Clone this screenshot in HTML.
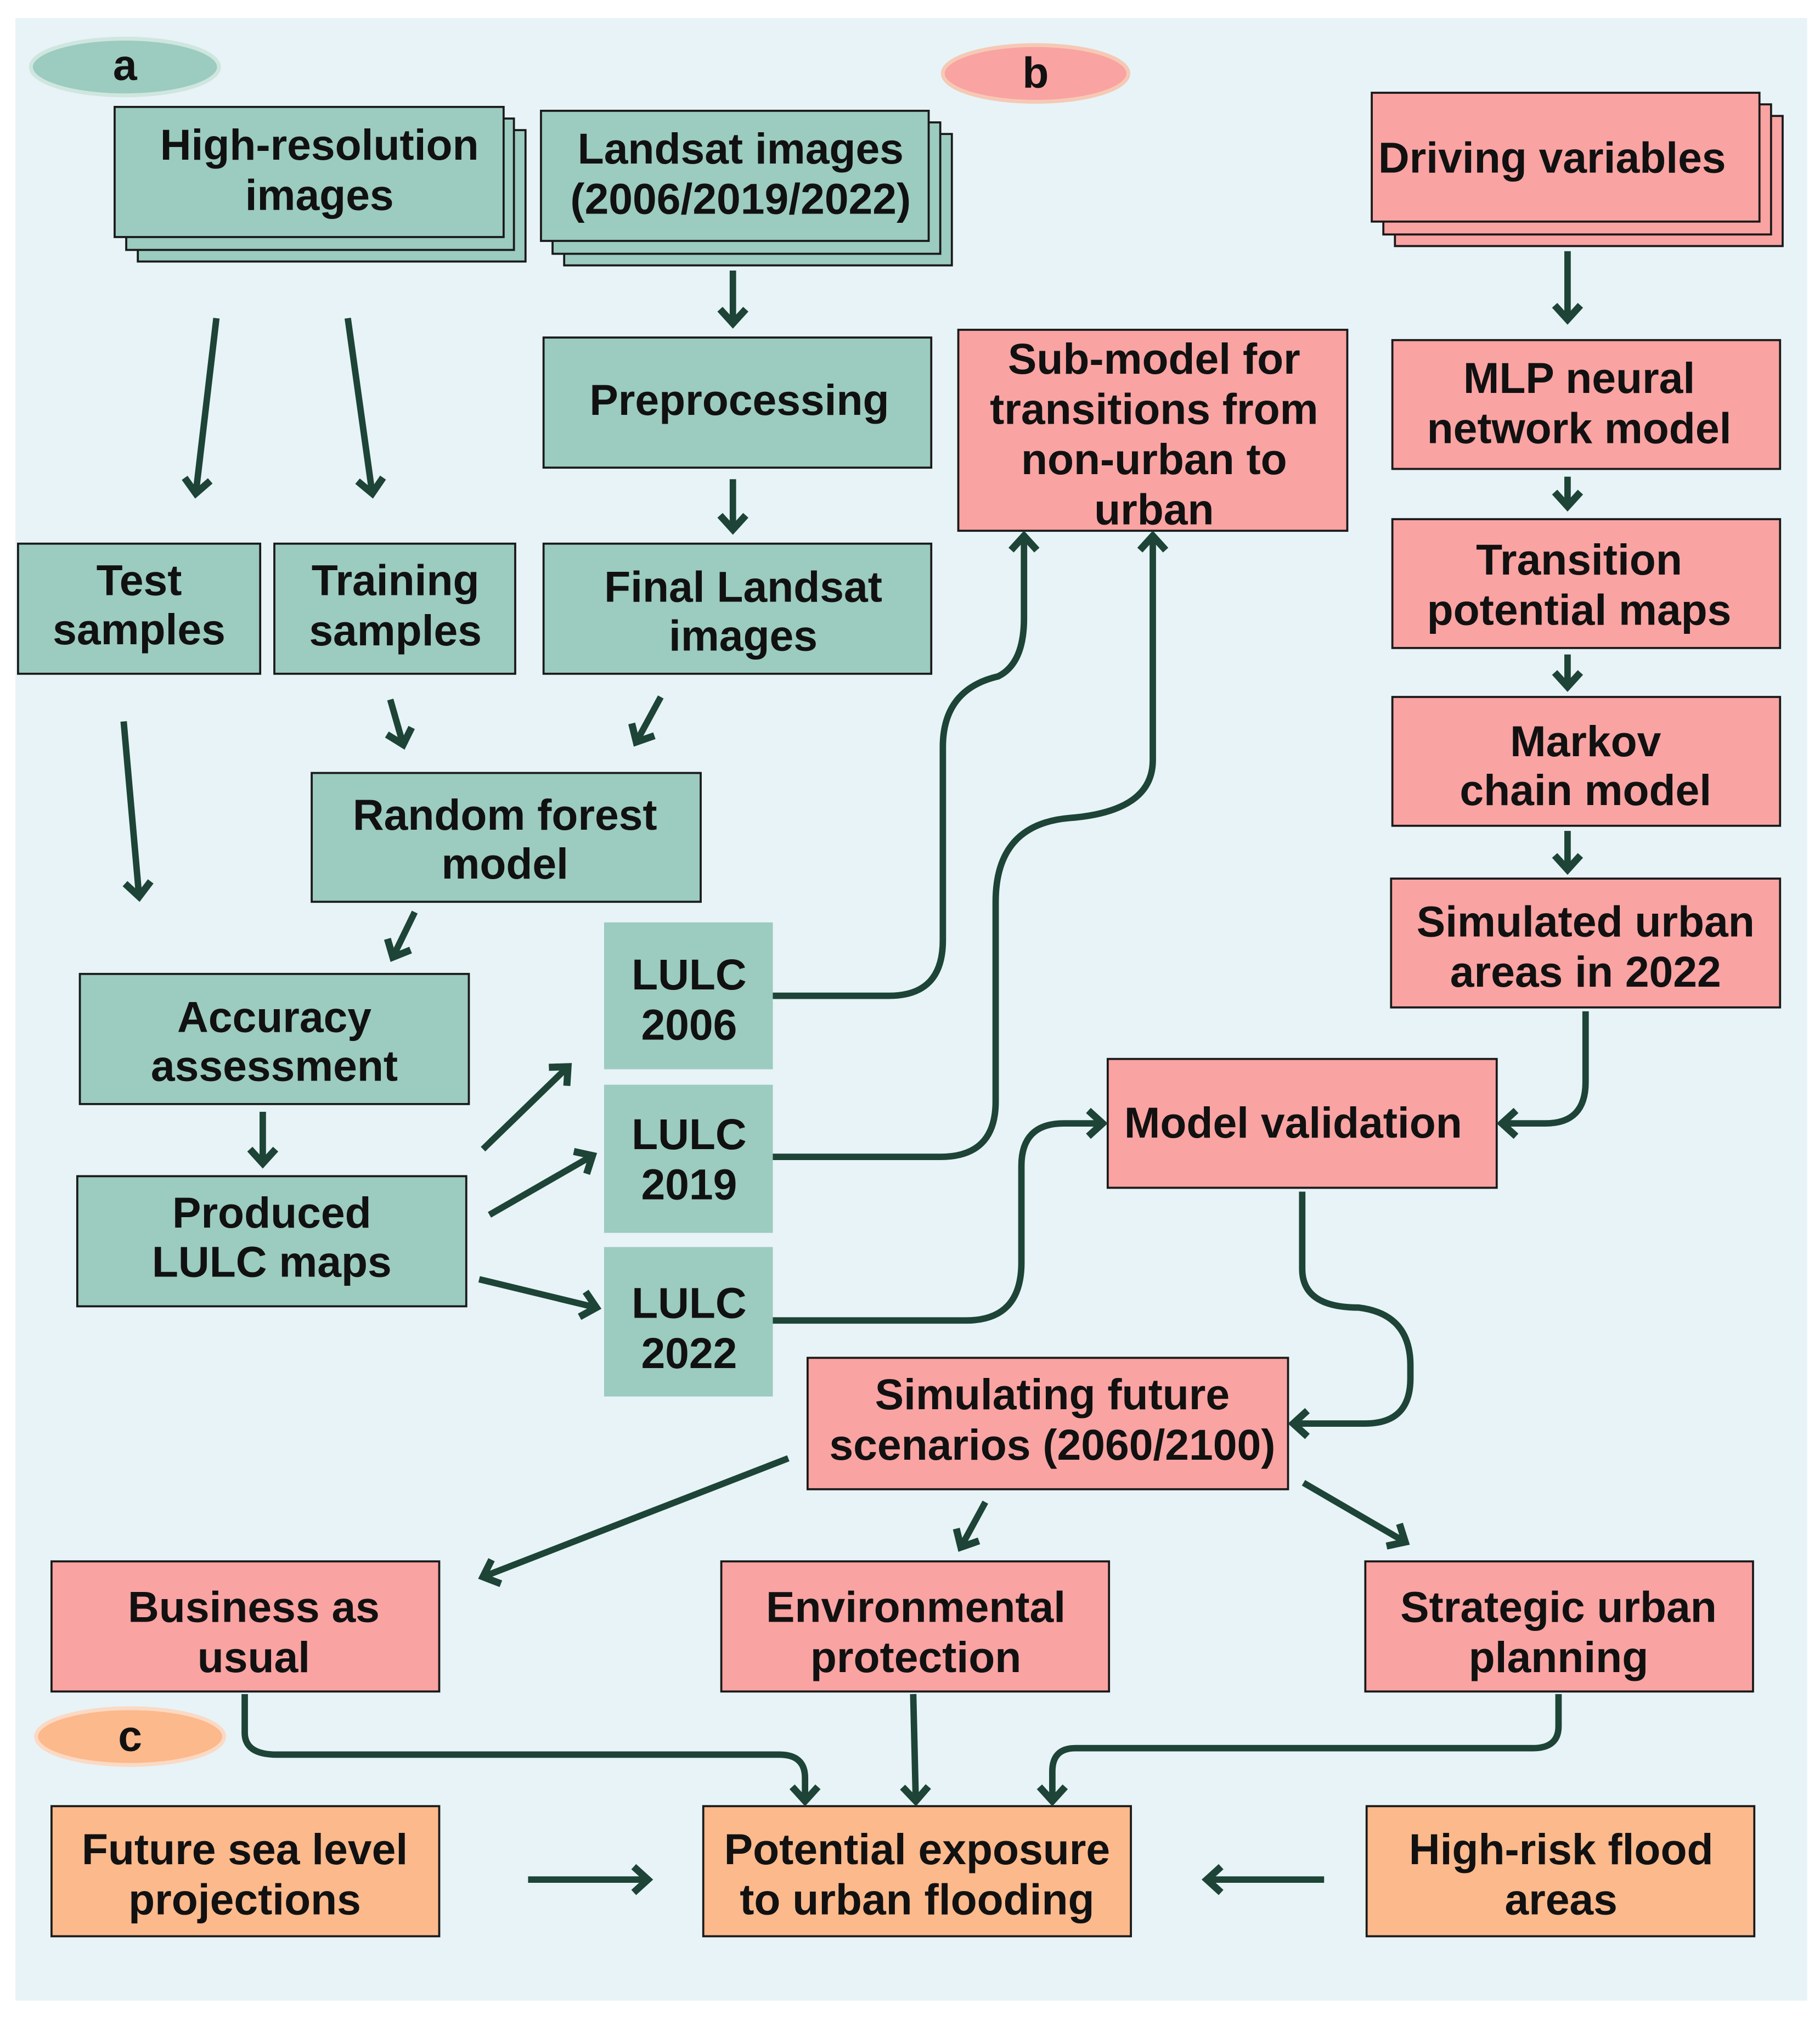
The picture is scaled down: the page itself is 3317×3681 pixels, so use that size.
<!DOCTYPE html>
<html><head><meta charset="utf-8"><style>
html,body{margin:0;padding:0;background:#fff}
svg{display:block}
text{font-family:"Liberation Sans",Arial,sans-serif;font-weight:bold;font-size:33.5px;fill:#111;text-anchor:middle}
.t{fill:#9ccbbf;stroke:#1a1a1a;stroke-width:1.6}
.p{fill:#f9a3a2;stroke:#1a1a1a;stroke-width:1.6}
.o{fill:#fbb98c;stroke:#1a1a1a;stroke-width:1.6}
.a{fill:none;stroke:#1d4436;stroke-width:5;marker-end:url(#m)}
</style></head><body>
<svg width="3317" height="3681" viewBox="0 0 1413 1568" preserveAspectRatio="none" xmlns="http://www.w3.org/2000/svg">
<defs><marker id="m" markerUnits="userSpaceOnUse" markerWidth="30" markerHeight="30" refX="14" refY="13" orient="auto"><path d="M3,3 L14,13 L3,23" fill="none" stroke="#1d4436" stroke-width="5.5" stroke-linejoin="miter"/></marker></defs>
<rect x="12" y="14" width="1391" height="1539" fill="#e7f3f7"/>
<ellipse cx="97" cy="52" rx="73" ry="22" fill="#9ccbbf" stroke="#cfe6df" stroke-width="3"/>
<text x="97" y="62">a</text>
<ellipse cx="804" cy="57" rx="72" ry="22" fill="#f9a3a2" stroke="#f6c9b5" stroke-width="3"/>
<text x="804" y="68">b</text>
<ellipse cx="101" cy="1348" rx="73" ry="22" fill="#fbb98c" stroke="#fbd9c4" stroke-width="3"/>
<text x="101" y="1359">c</text>

<!-- teal -->
<rect class="t" x="107" y="101" width="301" height="102"/><rect class="t" x="98" y="92" width="301" height="102"/><rect class="t" x="89" y="83" width="302" height="101"/>
<text x="248" y="124">High-resolution</text><text x="248" y="163">images</text>
<rect class="t" x="438" y="104" width="301" height="102"/><rect class="t" x="429" y="95" width="301" height="102"/><rect class="t" x="420" y="86" width="301" height="101"/>
<text x="575" y="127">Landsat images</text><text x="575" y="166">(2006/2019/2022)</text>
<rect class="t" x="422" y="262" width="301" height="101"/><text x="574" y="322">Preprocessing</text>
<rect class="t" x="422" y="422" width="301" height="101"/><text x="577" y="467">Final Landsat</text><text x="577" y="505">images</text>
<rect class="t" x="14" y="422" width="188" height="101"/><text x="108" y="462">Test</text><text x="108" y="500">samples</text>
<rect class="t" x="213" y="422" width="187" height="101"/><text x="307" y="462">Training</text><text x="307" y="501">samples</text>
<rect class="t" x="242" y="600" width="302" height="100"/><text x="392" y="644">Random forest</text><text x="392" y="682">model</text>
<rect class="t" x="62" y="756" width="302" height="101"/><text x="213" y="801">Accuracy</text><text x="213" y="839">assessment</text>
<rect class="t" x="60" y="913" width="302" height="101"/><text x="211" y="953">Produced</text><text x="211" y="991">LULC maps</text>
<rect x="469" y="716" width="131" height="114" fill="#9ccbbf"/><text x="535" y="768">LULC</text><text x="535" y="807">2006</text>
<rect x="469" y="842" width="131" height="115" fill="#9ccbbf"/><text x="535" y="892">LULC</text><text x="535" y="931">2019</text>
<rect x="469" y="968" width="131" height="116" fill="#9ccbbf"/><text x="535" y="1023">LULC</text><text x="535" y="1062">2022</text>

<!-- pink -->
<rect class="p" x="1083" y="90" width="301" height="101"/><rect class="p" x="1074" y="81" width="301" height="101"/><rect class="p" x="1065" y="72" width="301" height="100"/>
<text x="1205" y="134">Driving variables</text>
<rect class="p" x="744" y="256" width="302" height="156"/><text x="896" y="290">Sub-model for</text><text x="896" y="329">transitions from</text><text x="896" y="368">non-urban to</text><text x="896" y="407">urban</text>
<rect class="p" x="1081" y="264" width="301" height="100"/><text x="1226" y="305">MLP neural</text><text x="1226" y="344">network model</text>
<rect class="p" x="1081" y="403" width="301" height="100"/><text x="1226" y="446">Transition</text><text x="1226" y="485">potential maps</text>
<rect class="p" x="1081" y="541" width="301" height="100"/><text x="1231" y="587">Markov</text><text x="1231" y="625">chain model</text>
<rect class="p" x="1080" y="682" width="302" height="100"/><text x="1231" y="727">Simulated urban</text><text x="1231" y="766">areas in 2022</text>
<rect class="p" x="860" y="822" width="302" height="100"/><text x="1004" y="883">Model validation</text>
<rect class="p" x="627" y="1054" width="373" height="102"/><text x="817" y="1094">Simulating future</text><text x="817" y="1133">scenarios (2060/2100)</text>
<rect class="p" x="40" y="1212" width="301" height="101"/><text x="197" y="1259">Business as</text><text x="197" y="1298">usual</text>
<rect class="p" x="560" y="1212" width="301" height="101"/><text x="711" y="1259">Environmental</text><text x="711" y="1298">protection</text>
<rect class="p" x="1060" y="1212" width="301" height="101"/><text x="1210" y="1259">Strategic urban</text><text x="1210" y="1298">planning</text>

<!-- orange -->
<rect class="o" x="40" y="1402" width="301" height="101"/><text x="190" y="1447">Future sea level</text><text x="190" y="1486">projections</text>
<rect class="o" x="546" y="1402" width="332" height="101"/><text x="712" y="1447">Potential exposure</text><text x="712" y="1486">to urban flooding</text>
<rect class="o" x="1061" y="1402" width="301" height="101"/><text x="1212" y="1447">High-risk flood</text><text x="1212" y="1486">areas</text>

<!-- arrows -->
<path class="a" d="M168,247 L152,383"/>
<path class="a" d="M270,247 L289,383"/>
<path class="a" d="M569,210 L569,251"/>
<path class="a" d="M569,372 L569,411"/>
<path class="a" d="M303,543 L313,578"/>
<path class="a" d="M513,541 L494,576"/>
<path class="a" d="M96,560 L108,696"/>
<path class="a" d="M322,708 L305,743"/>
<path class="a" d="M204,863 L204,903"/>
<path class="a" d="M375,892 L441,828"/>
<path class="a" d="M380,943 L460,897"/>
<path class="a" d="M372,993 L463,1015"/>
<path class="a" d="M1217,195 L1217,248"/>
<path class="a" d="M1217,370 L1217,393"/>
<path class="a" d="M1217,508 L1217,533"/>
<path class="a" d="M1217,645 L1217,675"/>
<path class="a" d="M612,1132 L375,1224"/>
<path class="a" d="M765,1166 L746,1201"/>
<path class="a" d="M1012,1151 L1091,1197"/>
<path class="a" d="M410,1459 L503,1459"/>
<path class="a" d="M1028,1459 L937,1459"/>
<path class="a" d="M600,773 H690 Q732,773 732,730 V580 Q732,535 775,525 Q795,515 795,480 V416"/>
<path class="a" d="M600,898 H730 Q773,898 773,855 V700 Q773,640 830,635 Q895,630 895,590 V416"/>
<path class="a" d="M600,1025 H750 Q793,1025 793,980 V905 Q793,872 826,872 H856"/>
<path class="a" d="M1231,785 V840 Q1231,872 1200,872 H1166"/>
<path class="a" d="M1011,925 V985 Q1011,1015 1055,1015 Q1095,1020 1095,1060 V1070 Q1095,1105 1060,1105 H1004"/>
<path class="a" d="M190,1315 V1345 Q190,1362 215,1362 H605 Q625,1362 625,1380 V1398"/>
<path class="a" d="M709,1315 L711,1398"/>
<path class="a" d="M1210,1315 V1340 Q1210,1357 1190,1357 H835 Q817,1357 817,1375 V1398"/>
</svg>
</body></html>
